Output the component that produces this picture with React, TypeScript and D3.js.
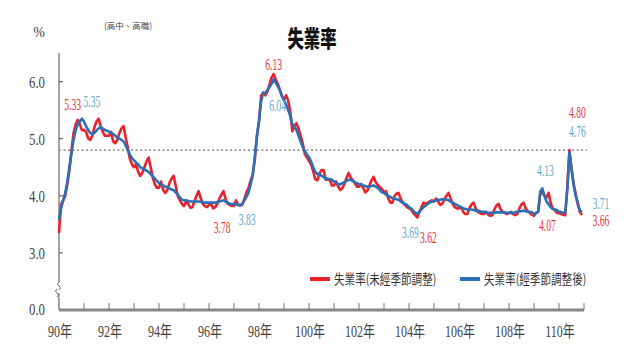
import React, { useEffect, useRef } from 'react';
import * as d3 from 'd3';

// 民國 years 90..110, monthly values
const yearLabels = ['90年', '92年', '94年', '96年', '98年', '100年', '102年', '104年', '106年', '108年', '110年'];
const yTicks = [3, 4, 5, 6];

const unadjusted: number[][] = [
  [3.35, 3.85, 3.92, 4.0, 4.2, 4.45, 4.8, 5.1, 5.25, 5.33, 5.25, 5.15],
  [5.15, 5.12, 5.0, 4.98, 5.05, 5.2, 5.3, 5.35, 5.22, 5.12, 5.05, 5.05],
  [5.05, 5.12, 4.95, 4.92, 4.98, 5.1, 5.18, 5.22, 5.02, 4.85, 4.65, 4.55],
  [4.5, 4.55, 4.42, 4.35, 4.4, 4.5, 4.6, 4.67, 4.5, 4.32, 4.2, 4.14],
  [4.14, 4.25, 4.1, 4.05, 4.1, 4.22, 4.3, 4.35, 4.18, 4.0, 3.92, 3.86],
  [3.82, 3.9, 3.86, 3.79, 3.8, 3.9, 4.0, 4.08, 3.96, 3.86, 3.82, 3.8],
  [3.84, 3.86, 3.78, 3.8, 3.86, 3.95, 4.02, 4.08, 3.94, 3.86, 3.84, 3.82],
  [3.82, 3.92, 3.84, 3.84, 3.84, 3.95, 4.06, 4.14, 4.27, 4.37, 4.64, 5.03],
  [5.31, 5.75, 5.81, 5.76, 5.82, 5.94, 6.07, 6.13, 6.04, 5.96, 5.86, 5.74],
  [5.68, 5.76, 5.67, 5.48, 5.13, 5.22, 5.27, 5.17, 5.05, 4.92, 4.73, 4.67],
  [4.61, 4.55, 4.43, 4.29, 4.27, 4.39, 4.45, 4.45, 4.28, 4.28, 4.28, 4.18],
  [4.18, 4.25, 4.16, 4.1, 4.13, 4.21, 4.31, 4.4, 4.32, 4.27, 4.22, 4.16],
  [4.16, 4.21, 4.14, 4.06, 4.09, 4.18, 4.27, 4.33, 4.24, 4.19, 4.15, 4.12],
  [4.06, 4.08, 3.96, 3.88, 3.88, 3.99, 4.04, 4.05, 3.95, 3.88, 3.84, 3.8],
  [3.78, 3.76, 3.7, 3.66, 3.62, 3.72, 3.8, 3.88, 3.86, 3.88, 3.9, 3.92],
  [3.9, 3.95, 3.9, 3.84, 3.86, 3.94, 4.0, 4.05, 3.95, 3.86, 3.8, 3.78],
  [3.78, 3.8, 3.72, 3.68, 3.68, 3.78, 3.85, 3.88, 3.78, 3.72, 3.7, 3.68],
  [3.68, 3.72, 3.67, 3.65, 3.66, 3.76, 3.83, 3.86, 3.76, 3.72, 3.7, 3.68],
  [3.7, 3.72, 3.68, 3.66, 3.68, 3.78, 3.85, 3.88, 3.78, 3.73, 3.7, 3.67],
  [3.65, 3.7, 3.72, 4.03, 4.07, 4.0, 3.97, 4.05, 3.88, 3.78, 3.75, 3.7],
  [3.7, 3.68, 3.67, 3.66, 4.15, 4.8, 4.48, 4.22, 4.03, 3.85, 3.72, 3.66],
];

const adjusted: number[][] = [
  [3.58, 3.78, 3.92, 4.05, 4.25, 4.5, 4.75, 4.98, 5.15, 5.25, 5.3, 5.35],
  [5.3, 5.22, 5.15, 5.1, 5.08, 5.1, 5.14, 5.18, 5.2, 5.18, 5.15, 5.14],
  [5.12, 5.1, 5.08, 5.05, 5.02, 5.0, 4.98, 4.95, 4.88, 4.8, 4.72, 4.66],
  [4.62, 4.58, 4.55, 4.5, 4.48, 4.46, 4.44, 4.42, 4.38, 4.34, 4.3, 4.26],
  [4.22, 4.2, 4.18, 4.16, 4.15, 4.13, 4.11, 4.1, 4.06, 4.02, 3.97, 3.93],
  [3.92, 3.92, 3.91, 3.9, 3.9, 3.9, 3.9, 3.9, 3.89, 3.89, 3.88, 3.88],
  [3.88, 3.88, 3.88, 3.88, 3.89, 3.9, 3.91, 3.92, 3.9, 3.88, 3.86, 3.85],
  [3.86, 3.85, 3.84, 3.83, 3.86, 3.92, 3.98, 4.06, 4.2, 4.36, 4.68, 5.05],
  [5.3, 5.65, 5.8, 5.8, 5.85, 5.9, 5.96, 6.04, 5.98, 5.92, 5.85, 5.75],
  [5.67, 5.6, 5.5, 5.4, 5.25, 5.2, 5.15, 5.05, 4.95, 4.85, 4.78, 4.72],
  [4.68, 4.6, 4.5, 4.42, 4.38, 4.38, 4.35, 4.33, 4.3, 4.3, 4.29, 4.28],
  [4.25, 4.23, 4.2, 4.2, 4.22, 4.24, 4.26, 4.28, 4.28, 4.26, 4.24, 4.22],
  [4.2, 4.2, 4.18, 4.17, 4.16, 4.16, 4.17, 4.18, 4.16, 4.14, 4.1, 4.06],
  [4.05, 4.02, 4.0, 3.98, 3.96, 3.95, 3.94, 3.93, 3.9, 3.88, 3.86, 3.84],
  [3.8, 3.78, 3.74, 3.7, 3.69, 3.72, 3.76, 3.8, 3.83, 3.86, 3.88, 3.9],
  [3.9, 3.92, 3.93, 3.93, 3.94, 3.94, 3.93, 3.92, 3.9, 3.88, 3.86, 3.84],
  [3.82, 3.8, 3.78, 3.77, 3.76, 3.76, 3.76, 3.75, 3.74, 3.74, 3.73, 3.72],
  [3.72, 3.71, 3.7, 3.7, 3.7, 3.7, 3.71, 3.71, 3.71, 3.71, 3.71, 3.7],
  [3.7, 3.7, 3.7, 3.71, 3.72, 3.73, 3.73, 3.74, 3.73, 3.72, 3.72, 3.71],
  [3.68, 3.7, 3.72, 4.07, 4.13, 4.0, 3.9, 3.85, 3.8, 3.77, 3.76, 3.75],
  [3.72, 3.72, 3.7, 3.71, 4.11, 4.76, 4.47, 4.19, 4.0, 3.88, 3.75, 3.71],
];

const refLevel = 4.8;

// callouts: series, month index, offsets
const callouts = [
  { text: '5.33', s: 'u', i: 9, dx: -5, dy: -10 },
  { text: '5.35', s: 'a', i: 11, dx: 10, dy: -12 },
  { text: '6.13', s: 'u', i: 103, dx: 0, dy: -4 },
  { text: '6.04', s: 'a', i: 103, dx: 4, dy: 32 },
  { text: '3.78', s: 'u', i: 74, dx: 9, dy: 25 },
  { text: '3.83', s: 'a', i: 87, dx: 7, dy: 20 },
  { text: '3.69', s: 'a', i: 172, dx: -7, dy: 25 },
  { text: '3.62', s: 'u', i: 172, dx: 11, dy: 26 },
  { text: '4.13', s: 'a', i: 232, dx: 3, dy: -12 },
  { text: '4.07', s: 'u', i: 232, dx: 5, dy: 39 },
  { text: '4.80', s: 'u', i: 245, dx: 8, dy: -32 },
  { text: '4.76', s: 'a', i: 245, dx: 8, dy: -15 },
  { text: '3.71', s: 'a', i: 251, dx: 19, dy: -3 },
  { text: '3.66', s: 'u', i: 251, dx: 19, dy: 11 },
];

const RED = '#e8212b';
const BLUE = '#2b70b6';
const RED_TXT = '#e0363f';
const BLUE_TXT = '#62a6c8';
const SERIF = '"Liberation Serif", "DejaVu Serif", serif';
const CJK = '"Noto Sans CJK TC", "Noto Sans CJK SC", sans-serif';

const App: React.FC = () => {
  const svgRef = useRef<SVGSVGElement>(null);

  useEffect(() => {
    if (!svgRef.current) return;
    const svg = d3.select(svgRef.current);
    svg.selectAll('*').remove();

    const u = unadjusted.flat();
    const a = adjusted.flat();
    const nMonths = unadjusted.length * 12;

    const x = d3.scaleLinear().domain([0, nMonths]).range([59, 584]);
    const y = d3.scaleLinear().domain([2, 6.5]).range([310, 53]);

    svg.append('rect').attr('width', 640).attr('height', 360).attr('fill', '#fff');

    // title and units
    svg.append('text')
      .attr('transform', 'translate(312,47) scale(0.82,1.15)')
      .attr('text-anchor', 'middle')
      .attr('font-family', CJK).attr('font-weight', 900).attr('font-size', 20)
      .attr('fill', '#111').text('失業率');
    svg.append('text')
      .attr('x', 39).attr('y', 37).attr('text-anchor', 'middle')
      .attr('font-family', SERIF).attr('font-size', 14).attr('fill', '#444').text('%');
    svg.append('text')
      .attr('x', 128).attr('y', 29).attr('text-anchor', 'middle')
      .attr('font-family', CJK).attr('font-size', 8.5).attr('fill', '#444').text('(高中、高職)');

    // y axis with break
    const axisColor = '#666';
    svg.append('line').attr('x1', 59).attr('x2', 59).attr('y1', 53).attr('y2', 282)
      .attr('stroke', axisColor).attr('stroke-width', 1.2);
    svg.append('line').attr('x1', 59).attr('x2', 59).attr('y1', 298).attr('y2', 310)
      .attr('stroke', axisColor).attr('stroke-width', 1.2);
    svg.append('path')
      .attr('d', 'M59,282 q-3,2 0,4 t0,4 M57,289 q-3,2 0,4 t0,4 M59,293 L59,298')
      .attr('fill', 'none').attr('stroke', axisColor).attr('stroke-width', 1);

    svg.selectAll('.ytick').data(yTicks).enter().append('line')
      .attr('x1', 59).attr('x2', 63).attr('y1', d => y(d)).attr('y2', d => y(d))
      .attr('stroke', axisColor).attr('stroke-width', 1.2);
    svg.selectAll('.ylab').data(yTicks).enter().append('text')
      .attr('transform', d => `translate(37,${y(d) + 6}) scale(0.8,1)`)
      .attr('text-anchor', 'middle')
      .attr('font-family', SERIF).attr('font-size', 16).attr('fill', '#444')
      .text(d => d.toFixed(1));
    svg.append('text')
      .attr('transform', `translate(37,${y(2) + 5}) scale(0.8,1)`)
      .attr('text-anchor', 'middle')
      .attr('font-family', SERIF).attr('font-size', 16).attr('fill', '#444').text('0.0');

    // x axis
    svg.append('line').attr('x1', 59).attr('x2', 584).attr('y1', 310).attr('y2', 310)
      .attr('stroke', '#888').attr('stroke-width', 3);
    const yearTicks = d3.range(1, unadjusted.length + 1);
    svg.selectAll('.xtick').data(yearTicks).enter().append('line')
      .attr('x1', d => x(d * 12)).attr('x2', d => x(d * 12))
      .attr('y1', 303).attr('y2', 310)
      .attr('stroke', '#777').attr('stroke-width', 1);
    svg.selectAll('.xlab').data(yearLabels).enter().append('text')
      .attr('transform', (_, i) => `translate(${x(i * 24) + 1},${337}) scale(0.75,1)`)
      .attr('text-anchor', 'middle')
      .attr('font-family', `${SERIF}, ${CJK}`).attr('font-size', 16).attr('fill', '#444')
      .text(d => d);

    // reference dotted line
    svg.append('line').attr('x1', 59).attr('x2', 587).attr('y1', y(refLevel)).attr('y2', y(refLevel))
      .attr('stroke', '#999').attr('stroke-width', 1.6).attr('stroke-dasharray', '2,2.5');

    const line = d3.line<number>().x((_, i) => x(i)).y(d => y(d)).curve(d3.curveLinear);
    svg.append('path').attr('d', line(u)).attr('fill', 'none')
      .attr('stroke', RED).attr('stroke-width', 2.6).attr('stroke-linejoin', 'round');
    svg.append('path').attr('d', line(a)).attr('fill', 'none')
      .attr('stroke', BLUE).attr('stroke-width', 2.6).attr('stroke-linejoin', 'round');

    // callouts
    svg.selectAll('.callout').data(callouts).enter().append('text')
      .attr('transform', d => {
        const v = d.s === 'u' ? u[d.i] : a[d.i];
        return `translate(${x(d.i) + d.dx},${y(v) + d.dy}) scale(0.6,1)`;
      })
      .attr('text-anchor', 'middle')
      .attr('font-family', SERIF).attr('font-size', 16)
      .attr('fill', d => (d.s === 'u' ? RED_TXT : BLUE_TXT))
      .text(d => d.text);

    // legend
    const legend = [
      { label: '失業率(未經季節調整)', color: RED, x: 310 },
      { label: '失業率(經季節調整後)', color: BLUE, x: 460 },
    ];
    const lg = svg.selectAll('.legend').data(legend).enter().append('g');
    lg.append('line')
      .attr('x1', d => d.x).attr('x2', d => d.x + 20).attr('y1', 279).attr('y2', 279)
      .attr('stroke', d => d.color).attr('stroke-width', 4);
    lg.append('text')
      .attr('transform', d => `translate(${d.x + 24},284) scale(0.92,1.15)`)
      .attr('font-family', CJK).attr('font-size', 11.5).attr('fill', '#333')
      .text(d => d.label);
  }, []);

  return (
    <svg ref={svgRef} width={640} height={360}
      style={{ position: 'absolute', left: 0, top: 0, background: '#fff' }} />
  );
};

export default App;
